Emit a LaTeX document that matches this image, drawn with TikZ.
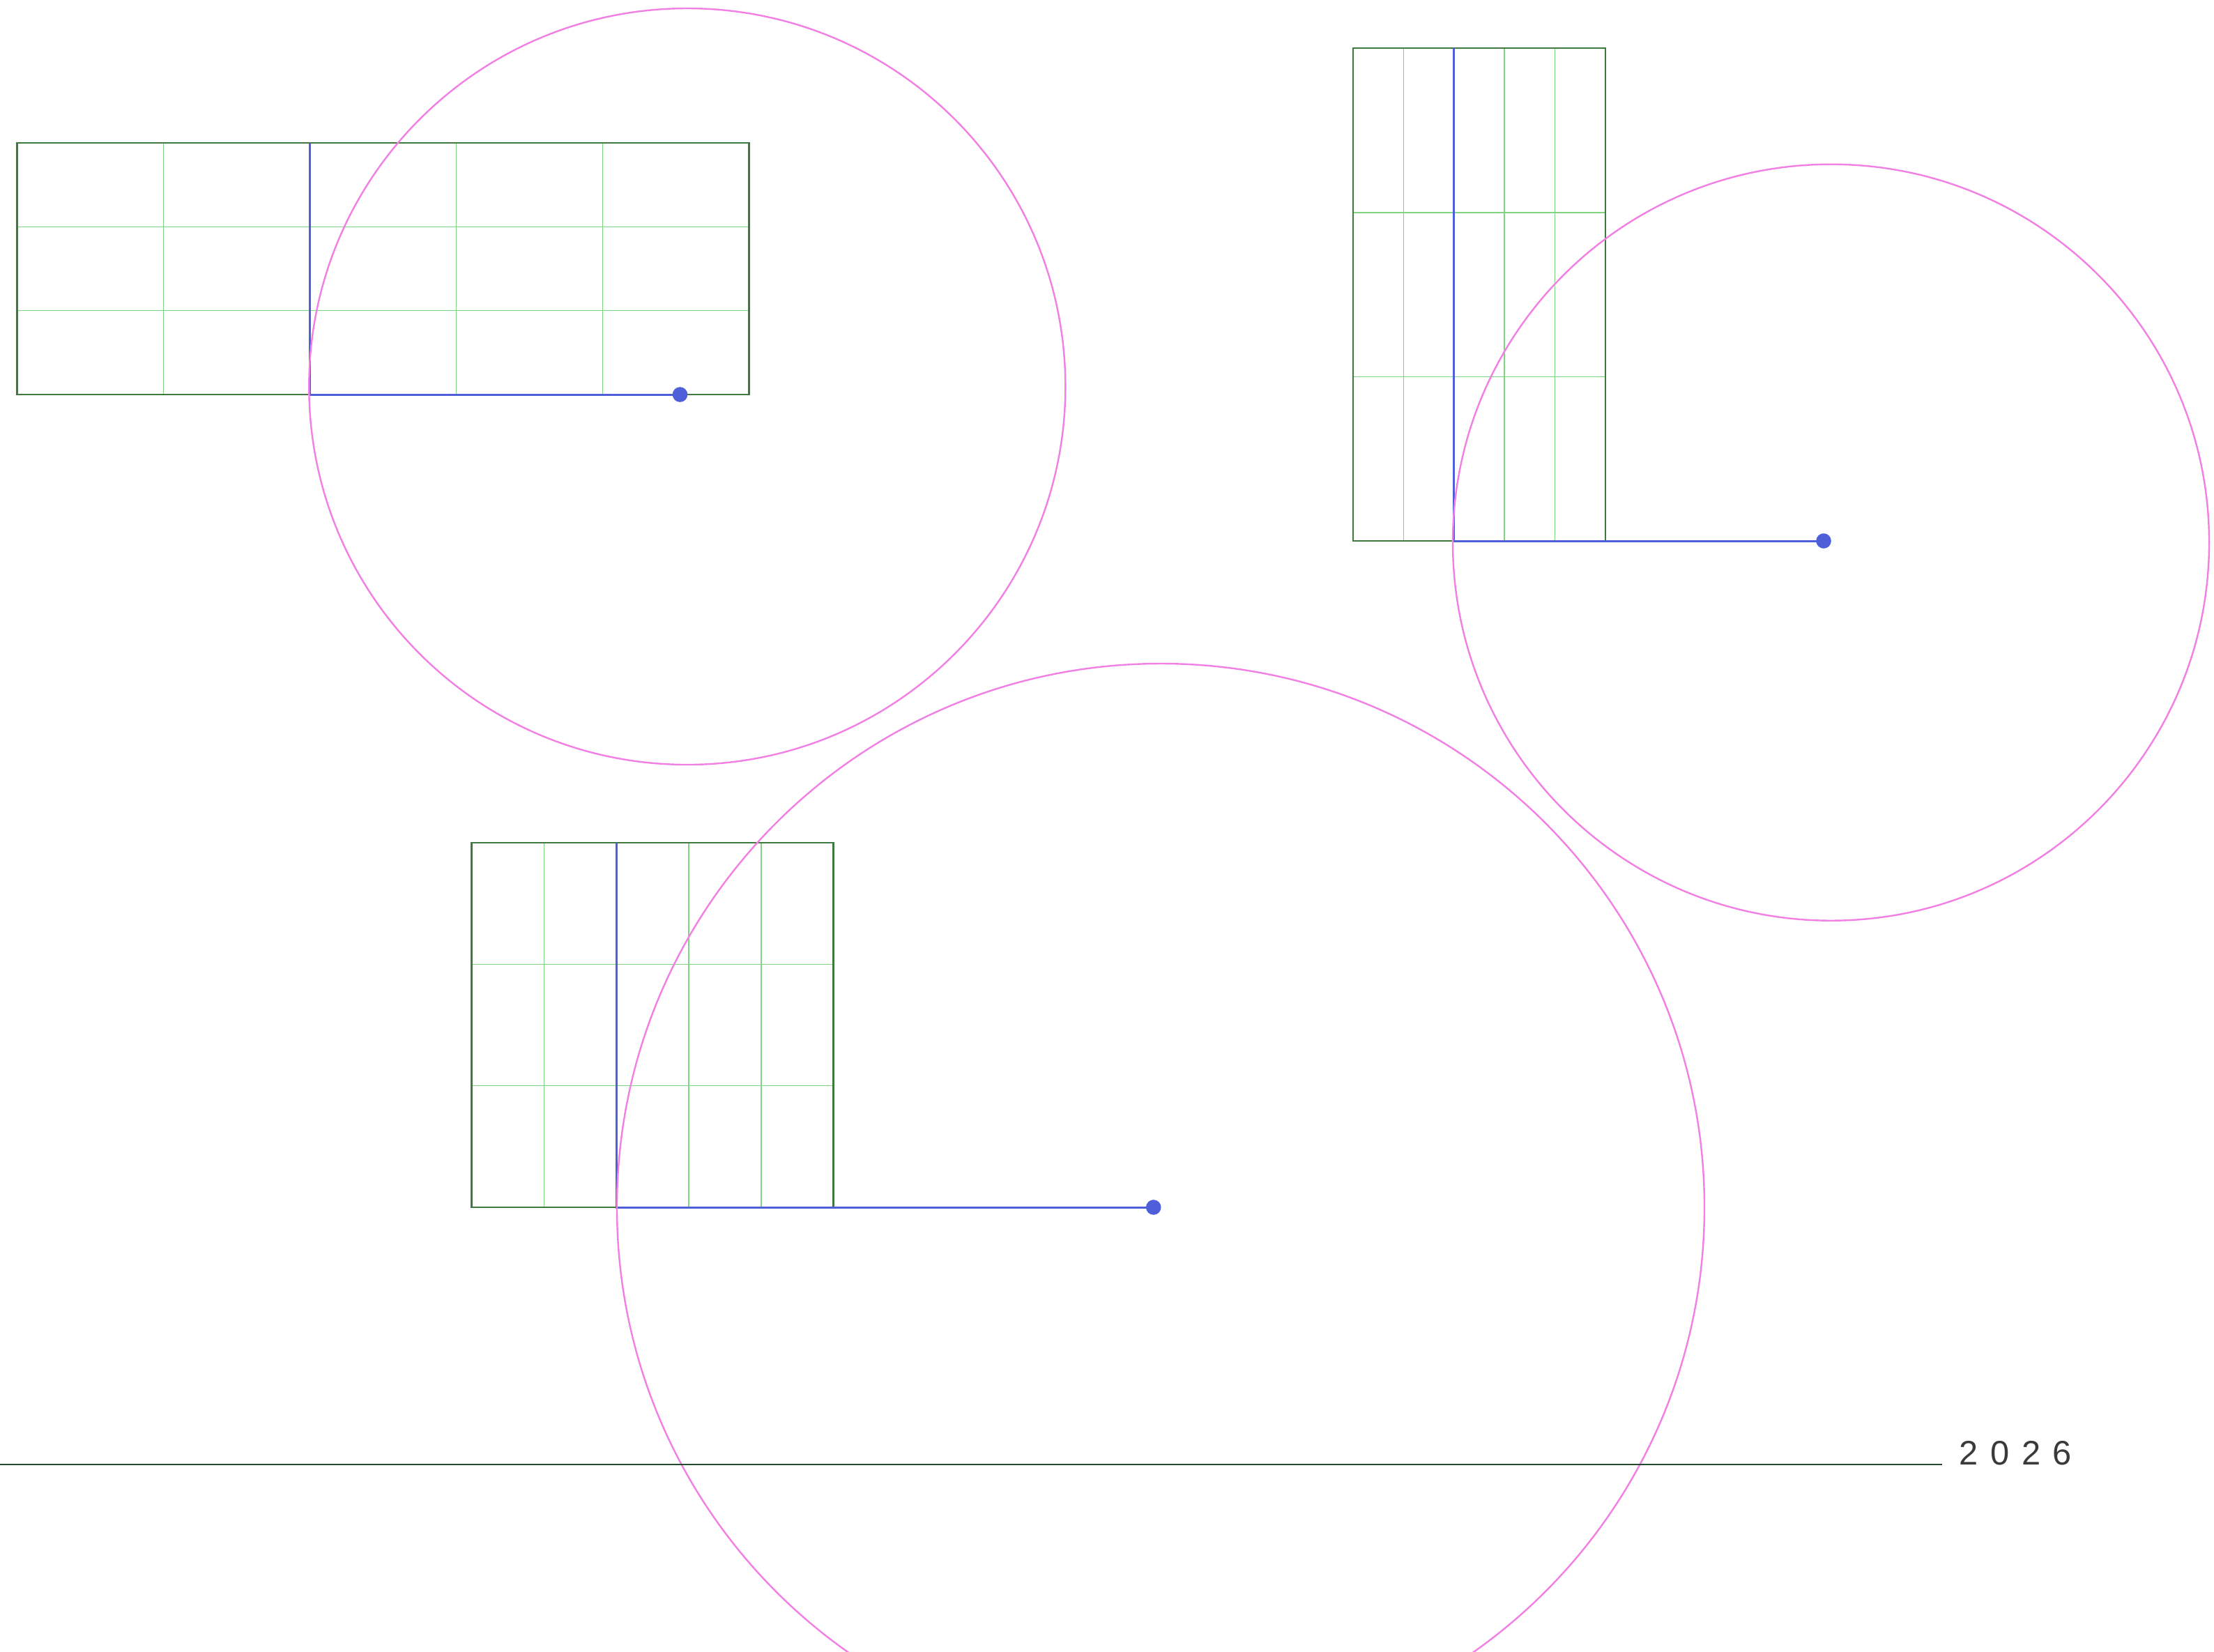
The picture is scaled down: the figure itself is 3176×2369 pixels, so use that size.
\documentclass[tikz,border=0pt]{standalone}
\usepackage{fontspec}
\setmainfont{Liberation Sans}
\definecolor{gridgreen}{HTML}{7FD47F}
\definecolor{edgegreen}{HTML}{3E7A3E}
\definecolor{linkblue}{HTML}{4F5FD9}
\definecolor{ringpink}{HTML}{F27FE3}
\definecolor{rulegreen}{HTML}{244A30}
\definecolor{yeargray}{HTML}{3A3A3A}
\tikzset{
  gridline/.style={draw=gridgreen, line width=0.4pt},
  framebox/.style={draw=edgegreen, line width=0.55pt},
  armline/.style={draw=linkblue, line width=0.75pt},
  ring/.style={draw=ringpink, line width=0.6pt},
  enddot/.style={circle, fill=linkblue, inner sep=0pt, minimum size=5.4pt},
  baseline rule/.style={draw=rulegreen, line width=0.6pt},
}
\begin{document}
\begin{tikzpicture}[x=0.25pt, y=-0.25pt]
\useasboundingbox (0,0) rectangle (3176,2369);
% ---------- panel 1 ----------
\foreach \i in {1,...,4} \draw[gridline] ({24.5+\i*210},205) -- ({24.5+\i*210},566);
\foreach \j in {1,2} \draw[gridline] (24.5,{205+\j*120.33}) -- (1074.5,{205+\j*120.33});
\draw[framebox] (24.5,205) rectangle (1074.5,566);
\coordinate (aTop) at (444.5,205);
\coordinate (aCorner) at (444.5,566);
\node[enddot] (aDot) at (975.5,566) {};
\draw[armline] (aTop) -- (aCorner) -- (aDot.center);
\node[ring, circle, minimum size=271.25pt, inner sep=0pt] (aRing) at (985.8,554.5) {};
% ---------- panel 2 ----------
\foreach \i in {1,...,4} \draw[gridline] ({1941+\i*72.4},69.3) -- ({1941+\i*72.4},776);
\foreach \j in {1,2} \draw[gridline] (1941,{69.3+\j*235.5}) -- (2303,{69.3+\j*235.5});
\draw[framebox] (1941,69.3) rectangle (2303,776);
\coordinate (bTop) at (2085.8,69.3);
\coordinate (bCorner) at (2085.8,776);
\node[enddot] (bDot) at (2616,776) {};
\draw[armline] (bTop) -- (bCorner) -- (bDot.center);
\node[ring, circle, minimum size=271.25pt, inner sep=0pt] (bRing) at (2626.5,778.2) {};
% ---------- panel 3 ----------
\foreach \i in {1,...,4} \draw[gridline] ({676.5+\i*103.8},1209) -- ({676.5+\i*103.8},1732);
\foreach \j in {1,2} \draw[gridline] (676.5,{1209+\j*174.33}) -- (1195.5,{1209+\j*174.33});
\draw[framebox] (676.5,1209) rectangle (1195.5,1732);
\coordinate (cTop) at (884.1,1209);
\coordinate (cCorner) at (884.1,1732);
\node[enddot] (cDot) at (1654.7,1732) {};
\draw[armline] (cTop) -- (cCorner) -- (cDot.center);
\begin{scope}
\clip (0,0) rectangle (3176,2369);
\node[ring, circle, minimum size=390pt, inner sep=0pt] (cRing) at (1665,1732) {};
\end{scope}
% ---------- footer ----------
\coordinate (ruleL) at (0,2100.7);
\coordinate (ruleR) at (2786,2100.7);
\draw[baseline rule] (ruleL) -- (ruleR);
\node[anchor=base west, inner sep=0pt, text=yeargray,
      font={\fontsize{12.2pt}{14pt}\selectfont\addfontfeatures{LetterSpace=36}}]
  (year) at (2810,2101) {2026};
\end{tikzpicture}
\end{document}
